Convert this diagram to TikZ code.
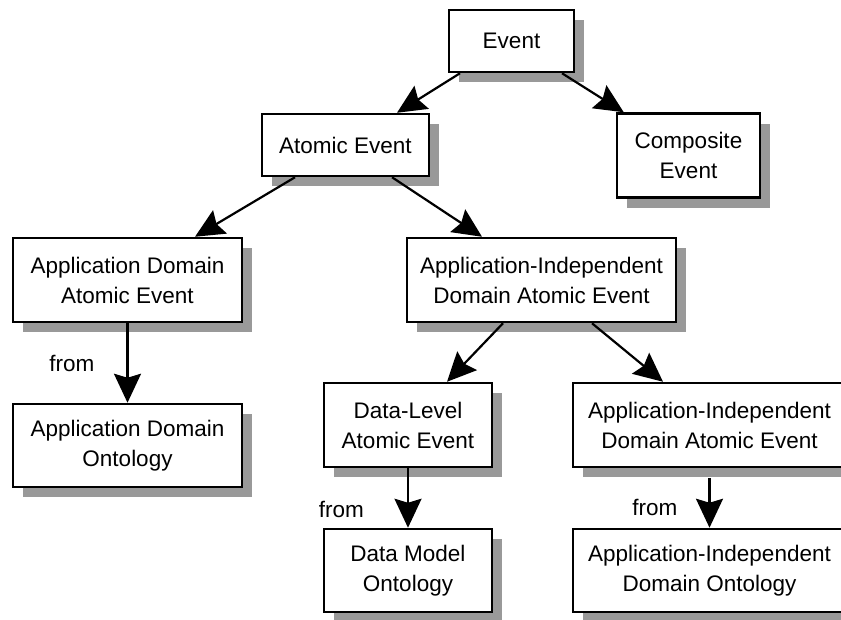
\documentclass[tikz,border=0pt]{standalone}
\usepackage{fontspec}
\setmainfont{Liberation Sans}
\usetikzlibrary{arrows.meta,shadows}

\begin{document}
\begin{tikzpicture}[x=1pt,y=1pt,
		box/.style={draw, line width=2.5pt, fill=white, align=center, inner sep=0pt,
			font=\fontsize{22.5}{30}\selectfont,
			drop shadow={shadow xshift=10pt, shadow yshift=-10pt, fill=black!40, opacity=1}},
		arr/.style={line width=2.2pt, arrows={-{Stealth[length=29pt,width=27pt,inset=4pt]}}},
		lbl/.style={inner sep=0pt, font=\fontsize{22.5}{30}\selectfont}]

		\useasboundingbox (0,0) rectangle (841,-619);
		\clip (0,0) rectangle (841,-619);

		\node[box, minimum width=125pt, minimum height=62pt] (EV) at (511.5,-41) {Event};

		\node[box, minimum width=167pt, minimum height=62pt] (AE) at (345.5,-145) {Atomic Event};
		\node[box, minimum width=143pt, minimum height=84pt] (CE) at (688.5,-155.5) {Composite\\Event};

		\node[box, minimum width=229pt, minimum height=84pt] (AD) at (127.5,-280) {Application Domain\\Atomic Event};
		\node[box, minimum width=269pt, minimum height=84pt] (AI) at (541.5,-280) {Application-Independent\\Domain Atomic Event};

		\node[box, minimum width=229pt, minimum height=83pt] (AO) at (127.5,-445.5) {Application Domain\\Ontology};
		\node[box, minimum width=168pt, minimum height=84pt] (DL) at (408,-425) {Data-Level\\Atomic Event};
		\node[box, minimum width=273pt, minimum height=84pt] (IE) at (709.5,-425) {Application-Independent\\Domain Atomic Event};

		\node[box, minimum width=168pt, minimum height=83pt] (DO) at (408,-570.5) {Data Model\\Ontology};
		\node[box, minimum width=273pt, minimum height=83pt] (IO) at (709.5,-570.5) {Application-Independent\\Domain Ontology};

		\draw [arr] ([xshift=-51.5pt]EV.south) -- ([xshift=51.5pt]AE.north);
		\draw [arr] ([xshift=50.5pt]EV.south) -- ([xshift=8pt]CE.north west);
		\draw [arr] ([xshift=-50.5pt]AE.south) -- ([xshift=67.5pt]AD.north);
		\draw [arr] ([xshift=46.5pt]AE.south) -- ([xshift=-59.5pt]AI.north);
		\draw [arr] ([xshift=-38.5pt]AI.south) -- ([xshift=39pt]DL.north);
		\draw [arr] ([xshift=50.5pt]AI.south) -- ([xshift=-46.5pt]IE.north);

		\draw [arr] (AD) -- node[lbl, left=32pt] {from} (AO);
		\draw [arr] (DL) -- node[lbl, pos=.7, left=43pt] {from} (DO);
		\draw [arr] ([yshift=-10pt]IE.south) -- node[lbl, pos=.6, left=31pt] {from} (IO);
	\end{tikzpicture}
\end{document}
